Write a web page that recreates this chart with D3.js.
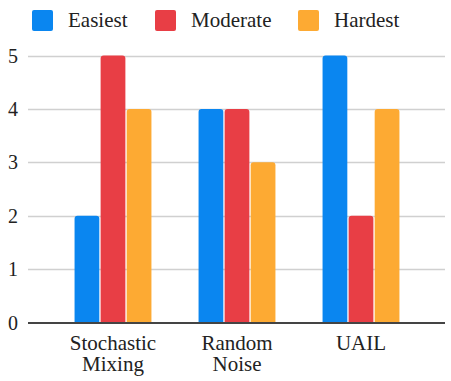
<!DOCTYPE html>
<html>
<head>
<meta charset="utf-8">
<script src="https://cdn.jsdelivr.net/npm/d3@7"></script>
<style>
  body { margin: 0; background: #fff; }
  svg text { font-family: "Liberation Serif", "Times New Roman", serif; fill: #222; }
</style>
</head>
<body>
<div id="container"></div>
<script>
const w = 451;
const h = 381;

// Data
const categories = [['Stochastic', 'Mixing'], ['Random', 'Noise'], ['UAIL']];
const seriesNames = ['Easiest', 'Moderate', 'Hardest'];
const easiest = [2, 4, 5];
const moderate = [5, 4, 2];
const hardest = [4, 3, 4];
const yTicks = [0, 1, 2, 3, 4, 5];
const colors = ['#0a86f0', '#e83e45', '#fdaa33'];

const seriesValues = [easiest, moderate, hardest];
const fontFamily = '"Liberation Serif", "Times New Roman", serif';

const svg = d3.select('#container')
              .append('svg')
              .attr('width', w)
              .attr('height', h);

const gridLeft = 28;
const gridRight = 445;

// Scales
const xScale = d3.scaleBand()
                 .domain(d3.range(categories.length))
                 .range([51, 423])
                 .paddingInner(0.38)
                 .paddingOuter(0.19);

const xSub = d3.scaleBand()
               .domain(seriesNames)
               .range([0, xScale.bandwidth()])
               .paddingInner(0.05);

const yScale = d3.scaleLinear()
                 .domain([0, 5])
                 .range([322.5, 55.5]);

// Grid lines
svg.append('g')
   .selectAll('line')
   .data(yTicks.filter(d => d > 0))
   .enter()
   .append('line')
   .attr('x1', gridLeft)
   .attr('x2', gridRight)
   .attr('y1', d => Math.round(yScale(d)) + 0.5)
   .attr('y2', d => Math.round(yScale(d)) + 0.5)
   .attr('stroke', '#d0d0d0')
   .attr('stroke-width', 1.5);

// Y tick labels
svg.append('g')
   .selectAll('text')
   .data(yTicks)
   .enter()
   .append('text')
   .attr('x', 18)
   .attr('y', d => yScale(d))
   .attr('dy', '0.35em')
   .attr('text-anchor', 'end')
   .attr('font-family', fontFamily)
   .style('font-size', '20px')
   .text(d => d);

// Bars with rounded tops
function barPath(x, y, bw, bh, r) {
  r = Math.min(r, bw / 2, bh);
  return `M${x},${y + bh}V${y + r}Q${x},${y} ${x + r},${y}H${x + bw - r}Q${x + bw},${y} ${x + bw},${y + r}V${y + bh}Z`;
}

const flat = [];
categories.forEach((c, i) => {
  seriesNames.forEach((s, j) => {
    flat.push({ cat: i, series: s, value: seriesValues[j][i], color: colors[j] });
  });
});

svg.append('g')
   .selectAll('path')
   .data(flat)
   .enter()
   .append('path')
   .attr('fill', d => d.color)
   .attr('d', d => {
     const x = xScale(d.cat) + xSub(d.series);
     const y = yScale(d.value);
     return barPath(x, y, xSub.bandwidth(), yScale(0) - y, 3);
   });

// Axis baseline
svg.append('line')
   .attr('x1', gridLeft)
   .attr('x2', gridRight)
   .attr('y1', yScale(0) + 0.5)
   .attr('y2', yScale(0) + 0.5)
   .attr('stroke', '#444')
   .attr('stroke-width', 2);

// X labels
const xLabels = svg.append('g')
                   .selectAll('text')
                   .data(categories)
                   .enter()
                   .append('text')
                   .attr('text-anchor', 'middle')
                   .attr('font-family', fontFamily)
                   .style('font-size', '21px')
                   .attr('transform', (d, i) => `translate(${xScale(i) + xScale.bandwidth() / 2}, 350)`);

xLabels.selectAll('tspan')
       .data(d => d)
       .enter()
       .append('tspan')
       .attr('x', 0)
       .attr('y', (d, i) => i * 21)
       .text(d => d);

// Legend
const legendX = [32, 155, 298];
const legend = svg.append('g')
                  .selectAll('g')
                  .data(seriesNames)
                  .enter()
                  .append('g')
                  .attr('transform', (d, i) => `translate(${legendX[i]}, 10)`);

legend.append('rect')
      .attr('width', 21)
      .attr('height', 21)
      .attr('rx', 2)
      .attr('fill', (d, i) => colors[i]);

legend.append('text')
      .attr('x', 36)
      .attr('y', 17)
      .attr('font-family', fontFamily)
      .style('font-size', '21px')
      .text(d => d);
</script>
</body>
</html>
